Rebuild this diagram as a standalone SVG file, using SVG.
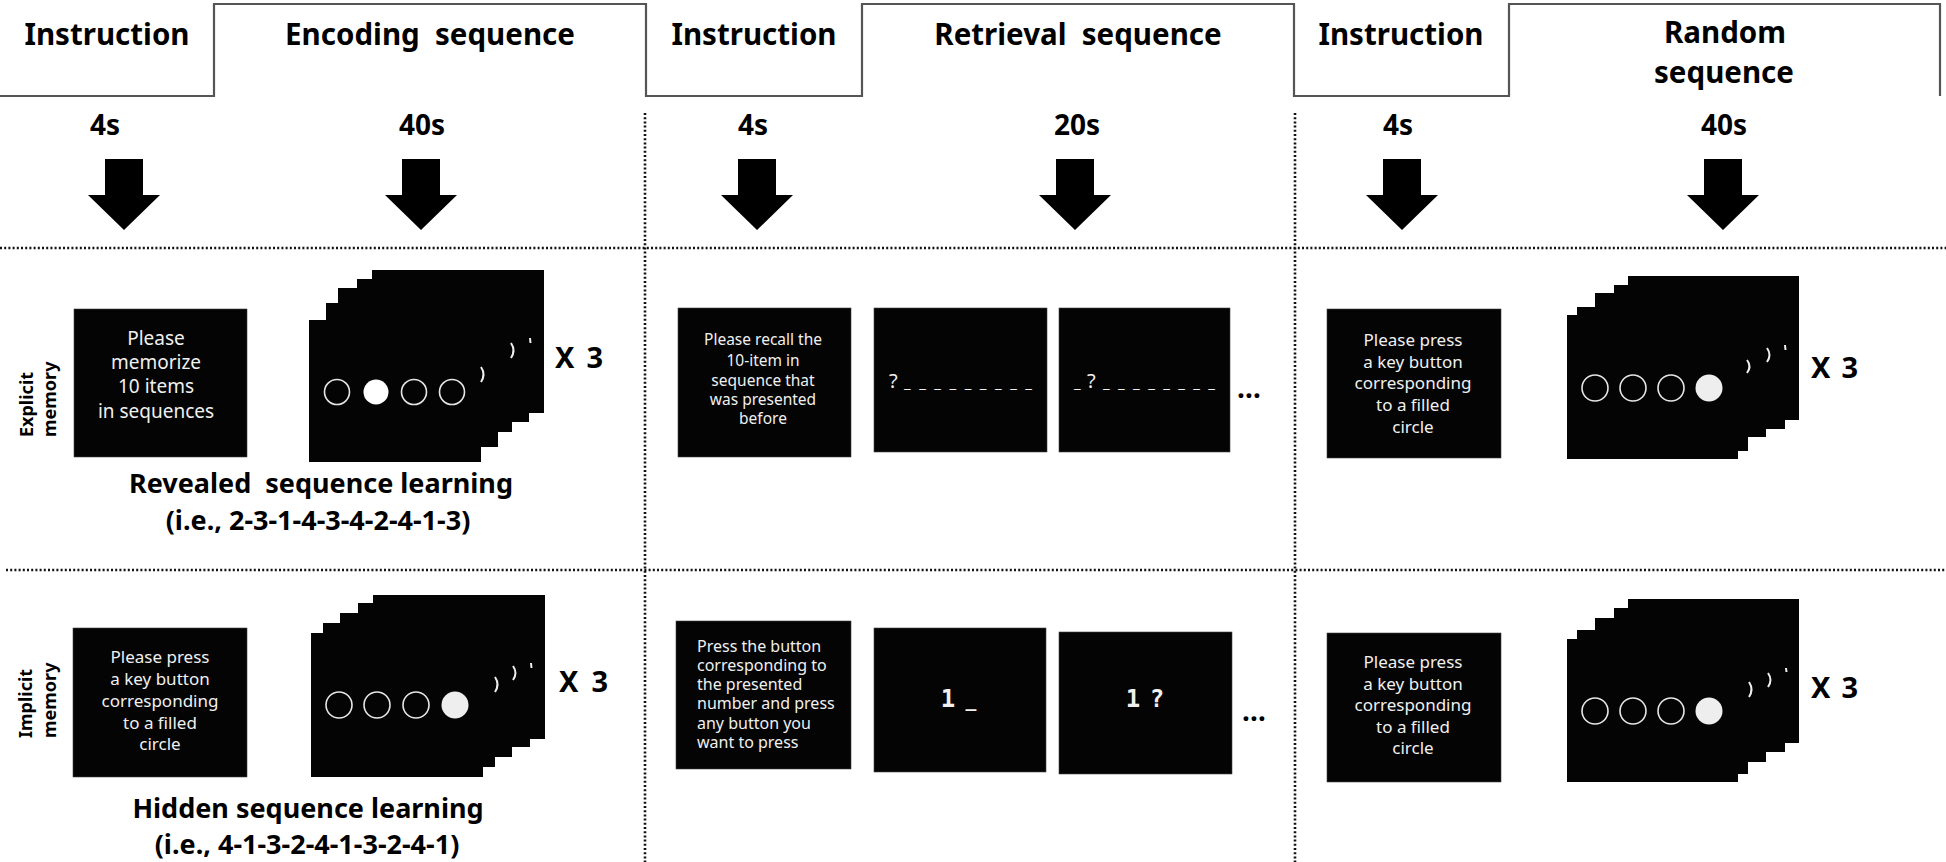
<svg xmlns="http://www.w3.org/2000/svg" width="1946" height="862" viewBox="0 0 1946 862">
<style>
text{font-family:"Noto Sans","Liberation Sans",sans-serif}
.hdr{font-size:29.5px;font-weight:bold;fill:#000;text-anchor:middle}
.dur{font-size:28px;font-weight:bold;fill:#000;text-anchor:middle}
.side{font-size:18px;font-weight:bold;fill:#000}
.cap{font-size:27px;font-weight:bold;fill:#000;text-anchor:middle}
.x3{font-size:29px;font-weight:bold;fill:#000}
.bx{fill:#040404;stroke:#444;stroke-width:0.6}
.fr{fill:#040404}
.wt{fill:#f0f0f0;text-anchor:middle}
.t19{font-size:19px}
.t17{font-size:17px}
.t155{font-size:15.5px}
.t16{font-size:16px}
.ring{fill:none;stroke:#e6e6e6;stroke-width:1.6}
.arc{fill:none;stroke:#eee;stroke-width:2}
.dot{fill:none;stroke:#111;stroke-width:2.6;stroke-dasharray:2 2.2}
.step{fill:none;stroke:#555;stroke-width:2.2}
.arr{fill:#000}
.mono{font-family:"DejaVu Sans Mono","Liberation Mono",monospace;font-weight:bold;font-size:24px;fill:#f0f0f0;text-anchor:middle}
.ell{font-size:28px;font-weight:bold;fill:#000}
</style>
<rect width="1946" height="862" fill="#fff"/>

<g id="timeline">
<path class="step" d="M0,96 H214 V4 H646 V96 H862 V4 H1294 V96 H1509 V4 H1940 V96"/>
<text class="hdr" x="107" y="45">Instruction</text>
<text class="hdr" x="430" y="45" xml:space="preserve">Encoding  sequence</text>
<text class="hdr" x="754" y="45">Instruction</text>
<text class="hdr" x="1078" y="45" xml:space="preserve">Retrieval  sequence</text>
<text class="hdr" x="1401" y="45">Instruction</text>
<text class="hdr" x="1725" y="43">Random</text>
<text class="hdr" x="1724" y="83">sequence</text>
<text class="dur" x="105" y="135">4s</text>
<text class="dur" x="422" y="135">40s</text>
<text class="dur" x="753" y="135">4s</text>
<text class="dur" x="1077" y="135">20s</text>
<text class="dur" x="1398" y="135">4s</text>
<text class="dur" x="1724" y="135">40s</text>
</g>

<g id="connectors">
<polygon class="arr" points="105,159 143,159 143,195 160,195 124,230 88,195 105,195"/>
<polygon class="arr" points="402,159 440,159 440,195 457,195 421,230 385,195 402,195"/>
<polygon class="arr" points="738,159 776,159 776,195 793,195 757,230 721,195 738,195"/>
<polygon class="arr" points="1056,159 1094,159 1094,195 1111,195 1075,230 1039,195 1056,195"/>
<polygon class="arr" points="1383,159 1421,159 1421,195 1438,195 1402,230 1366,195 1383,195"/>
<polygon class="arr" points="1704,159 1742,159 1742,195 1759,195 1723,230 1687,195 1704,195"/>
</g>

<g id="grid">
<line class="dot" x1="0" y1="248" x2="1946" y2="248"/>
<line class="dot" x1="6" y1="570" x2="1946" y2="570"/>
<line class="dot" x1="645" y1="113" x2="645" y2="862"/>
<line class="dot" x1="1295" y1="113" x2="1295" y2="862"/>
</g>

<g id="label-explicit">
<text class="side" transform="translate(33,437) rotate(-90)">Explicit</text>
<text class="side" transform="translate(56,437) rotate(-90)">memory</text>
</g>
<g id="label-implicit">
<text class="side" transform="translate(32,738) rotate(-90)">Implicit</text>
<text class="side" transform="translate(56,738) rotate(-90)">memory</text>
</g>

<g id="explicit-instruction">
<rect class="bx" x="74" y="309" width="173" height="148"/>
<text class="wt t19" x="156" y="345">Please</text>
<text class="wt t19" x="156" y="369">memorize</text>
<text class="wt t19" x="156" y="393">10 items</text>
<text class="wt t19" x="156" y="418">in sequences</text>
</g>

<g id="explicit-encoding">
<rect class="fr" x="372" y="270" width="172" height="143"/>
<rect class="fr" x="357" y="279" width="172" height="143"/>
<rect class="fr" x="338" y="288" width="174" height="144"/>
<rect class="fr" x="326" y="303" width="172" height="144"/>
<rect class="fr" x="309" y="320" width="172" height="142"/>
<path class="arc" d="M481,367 Q486,374.5 481,382"/>
<path class="arc" d="M511,343 Q516,350.5 511,358"/>
<path class="arc" d="M530,338 L530.5,343"/>
<circle class="ring" cx="337" cy="392" r="12.5"/>
<circle cx="376" cy="392" r="12.5" fill="#fff"/>
<circle class="ring" cx="414" cy="392" r="12.5"/>
<circle class="ring" cx="452" cy="392" r="12.5"/>
<text class="x3" x="555" y="368" textLength="48" xml:space="preserve">X 3</text>
<text class="cap" x="321" y="493" xml:space="preserve">Revealed  sequence learning</text>
<text class="cap" x="318" y="530">(i.e., 2-3-1-4-3-4-2-4-1-3)</text>
</g>

<g id="explicit-retrieval-instruction">
<rect class="bx" x="678" y="308" width="173" height="149"/>
<text class="wt t155" x="763" y="345">Please recall the</text>
<text class="wt t155" x="763" y="366">10-item in</text>
<text class="wt t155" x="763" y="386">sequence that</text>
<text class="wt t155" x="763" y="405">was presented</text>
<text class="wt t155" x="763" y="424">before</text>
</g>

<g id="explicit-retrieval-1">
<rect class="bx" x="874" y="308" width="173" height="144"/>
<text x="889" y="388" font-size="20" fill="#f0f0f0">?</text>
<text x="904" y="388" font-size="15" fill="#f0f0f0" textLength="128" lengthAdjust="spacing" xml:space="preserve">_ _ _ _ _ _ _ _ _</text>
</g>
<g id="explicit-retrieval-2">
<rect class="bx" x="1059" y="308" width="171" height="144"/>
<text x="1074" y="388" font-size="15" fill="#f0f0f0">_</text>
<text x="1087" y="388" font-size="20" fill="#f0f0f0">?</text>
<text x="1103" y="388" font-size="15" fill="#f0f0f0" textLength="112" lengthAdjust="spacing" xml:space="preserve">_ _ _ _ _ _ _ _</text>
</g>
<text class="ell" x="1237" y="398">…</text>

<g id="explicit-random-instruction">
<rect class="bx" x="1327" y="309" width="174" height="149"/>
<text class="wt t17" x="1413" y="346">Please press</text>
<text class="wt t17" x="1413" y="368">a key button</text>
<text class="wt t17" x="1413" y="389">corresponding</text>
<text class="wt t17" x="1413" y="411">to a filled</text>
<text class="wt t17" x="1413" y="433">circle</text>
</g>

<g id="explicit-random">
<rect class="fr" x="1628" y="276" width="171" height="144"/>
<rect class="fr" x="1614" y="285" width="171" height="144"/>
<rect class="fr" x="1595" y="293" width="171" height="144"/>
<rect class="fr" x="1577" y="307" width="171" height="144"/>
<rect class="fr" x="1567" y="315" width="171" height="144"/>
<path class="arc" d="M1747,360 Q1752,366.5 1747,373"/>
<path class="arc" d="M1767,348 Q1772,355 1767,362"/>
<path class="arc" d="M1785,345 L1785.5,350"/>
<circle class="ring" cx="1595" cy="388" r="13"/>
<circle class="ring" cx="1633" cy="388" r="13"/>
<circle class="ring" cx="1671" cy="388" r="13"/>
<circle cx="1709" cy="388" r="13.5" fill="#eee"/>
<text class="x3" x="1811" y="378" textLength="47" xml:space="preserve">X 3</text>
</g>

<g id="implicit-instruction">
<rect class="bx" x="73" y="628" width="174" height="149"/>
<text class="wt t17" x="160" y="663">Please press</text>
<text class="wt t17" x="160" y="685">a key button</text>
<text class="wt t17" x="160" y="707">corresponding</text>
<text class="wt t17" x="160" y="729">to a filled</text>
<text class="wt t17" x="160" y="750">circle</text>
</g>

<g id="implicit-encoding">
<rect class="fr" x="373" y="595" width="172" height="144"/>
<rect class="fr" x="358" y="603" width="172" height="144"/>
<rect class="fr" x="340" y="613" width="172" height="144"/>
<rect class="fr" x="323" y="623" width="172" height="144"/>
<rect class="fr" x="311" y="633" width="172" height="144"/>
<path class="arc" d="M495,677 Q500,684.5 495,692"/>
<path class="arc" d="M513,666 Q518,673 513,680"/>
<path class="arc" d="M531,663 L531.5,668"/>
<circle class="ring" cx="339" cy="705" r="13"/>
<circle class="ring" cx="377" cy="705" r="13"/>
<circle class="ring" cx="416" cy="705" r="13"/>
<circle cx="455" cy="705" r="13.5" fill="#eee"/>
<text class="x3" x="559" y="692" textLength="49" xml:space="preserve">X 3</text>
<text class="cap" x="308" y="818">Hidden sequence learning</text>
<text class="cap" x="307" y="854">(i.e., 4-1-3-2-4-1-3-2-4-1)</text>
</g>

<g id="implicit-retrieval-instruction">
<rect class="bx" x="676" y="621" width="175" height="148"/>
<text class="t16" x="697" y="652" fill="#f0f0f0">Press the button</text>
<text class="t16" x="697" y="671" fill="#f0f0f0">corresponding to</text>
<text class="t16" x="697" y="690" fill="#f0f0f0">the presented</text>
<text class="t16" x="697" y="709" fill="#f0f0f0">number and press</text>
<text class="t16" x="697" y="729" fill="#f0f0f0">any button you</text>
<text class="t16" x="697" y="748" fill="#f0f0f0">want to press</text>
</g>

<g id="implicit-retrieval-1">
<rect class="bx" x="874" y="628" width="172" height="144"/>
<text class="mono" y="707"><tspan x="948">1</tspan><tspan x="971" font-size="18">_</tspan></text>
</g>
<g id="implicit-retrieval-2">
<rect class="bx" x="1059" y="632" width="173" height="142"/>
<text class="mono" y="707"><tspan x="1133">1</tspan><tspan x="1157">?</tspan></text>
</g>
<text class="ell" x="1242" y="721">…</text>

<g id="implicit-random-instruction">
<rect class="bx" x="1327" y="633" width="174" height="149"/>
<text class="wt t17" x="1413" y="668">Please press</text>
<text class="wt t17" x="1413" y="690">a key button</text>
<text class="wt t17" x="1413" y="711">corresponding</text>
<text class="wt t17" x="1413" y="733">to a filled</text>
<text class="wt t17" x="1413" y="754">circle</text>
</g>

<g id="implicit-random">
<rect class="fr" x="1628" y="599" width="171" height="144"/>
<rect class="fr" x="1614" y="608" width="171" height="144"/>
<rect class="fr" x="1595" y="618" width="171" height="144"/>
<rect class="fr" x="1577" y="630" width="171" height="144"/>
<rect class="fr" x="1567" y="639" width="171" height="143"/>
<path class="arc" d="M1749,682 Q1754,689.5 1749,697"/>
<path class="arc" d="M1768,673 Q1773,680 1768,687"/>
<path class="arc" d="M1786,668 L1786.5,672"/>
<circle class="ring" cx="1595" cy="711" r="13"/>
<circle class="ring" cx="1633" cy="711" r="13"/>
<circle class="ring" cx="1671" cy="711" r="13"/>
<circle cx="1709" cy="711" r="13.5" fill="#eee"/>
<text class="x3" x="1811" y="698" textLength="47" xml:space="preserve">X 3</text>
</g>
</svg>
